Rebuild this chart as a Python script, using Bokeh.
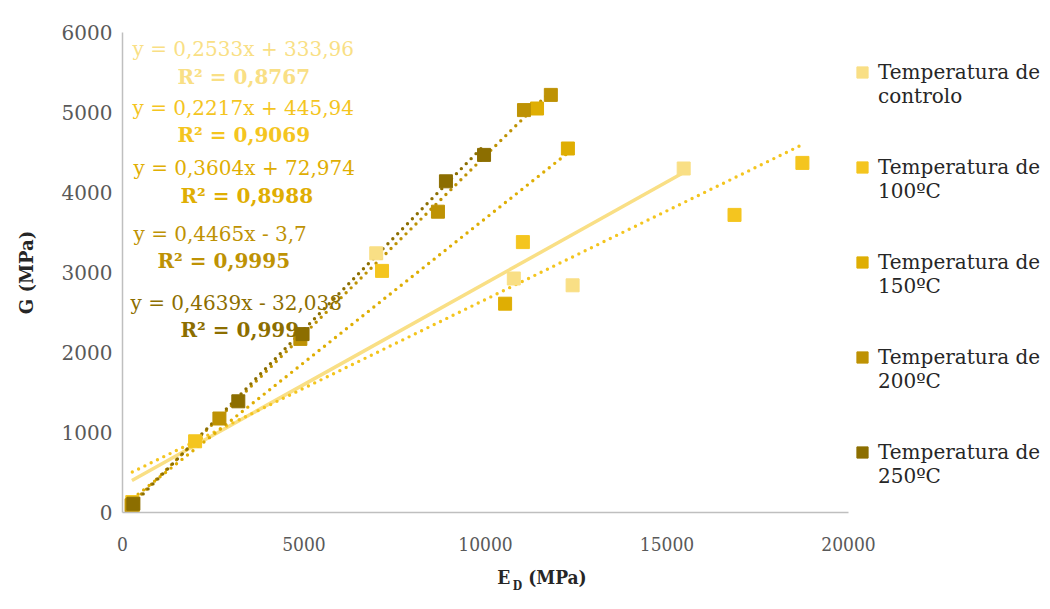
from bokeh.plotting import figure
from bokeh.models import (Range1d, FixedTicker, Label, Legend, LegendItem, LinearAxis)
from bokeh.embed import file_html
from bokeh.resources import INLINE
import numpy as np

# Dynamic modulus E_D (MPa) vs shear modulus G (MPa) per treatment temperature
series_names = ["Temperatura de\ncontrolo", "Temperatura de\n100ºC", "Temperatura de\n150ºC",
                "Temperatura de\n200ºC", "Temperatura de\n250ºC"]
colors = ["#F9DF85", "#F4C51F", "#DFAE03", "#BE9204", "#8C6E00"]

ed_control = [260, 6990, 10780, 12400, 15460]
g_control = [100, 3240, 2925, 2840, 4300]

ed_100 = [270, 2000, 7150, 11030, 16860, 18730]
g_100 = [130, 890, 3020, 3380, 3720, 4370]

ed_150 = [280, 10540, 11420, 12270]
g_150 = [80, 2610, 5050, 4550]

ed_200 = [250, 2670, 4900, 8690, 11060, 11800]
g_200 = [90, 1175, 2170, 3760, 5030, 5220]

ed_250 = [300, 3190, 4960, 8910, 9960]
g_250 = [110, 1390, 2230, 4140, 4470]

# Linear trend fits (slope, intercept, R²)
slopes = [0.2533, 0.2217, 0.3604, 0.4465, 0.4639]
intercepts = [333.96, 445.94, 72.974, -3.7, -32.038]
r2 = [0.8767, 0.9069, 0.8988, 0.9995, 0.999]

xs_all = [ed_control, ed_100, ed_150, ed_200, ed_250]
ys_all = [g_control, g_100, g_150, g_200, g_250]

x_ticks = [0, 5000, 10000, 15000, 20000]
y_ticks = [0, 1000, 2000, 3000, 4000, 5000, 6000]

FONT = "DejaVu Serif"
INK = "#262626"
NBSP = "\u00a0"

p = figure(frame_width=726, frame_height=480, output_backend="svg", toolbar_location=None,
           x_range=Range1d(0, 20000), y_range=Range1d(0, 6000),
           min_border_left=122, min_border_right=6, min_border_top=32, min_border_bottom=10)
p.outline_line_color = None
p.background_fill_color = "white"
p.border_fill_color = "white"
p.xgrid.visible = False
p.ygrid.visible = False

for ax in (p.xaxis[0], p.yaxis[0]):
    ax.axis_line_color = "#BFBFBF"
    ax.axis_line_width = 1.5
    ax.major_tick_line_color = None
    ax.minor_tick_line_color = None
    ax.major_label_text_color = "#595959"
    ax.major_label_text_font = FONT

p.xaxis.ticker = FixedTicker(ticks=x_ticks)
p.yaxis.ticker = FixedTicker(ticks=y_ticks)
p.xaxis.major_label_text_font = "DejaVu Serif Condensed"
p.xaxis.major_label_text_font_size = "19px"
p.yaxis.major_label_text_font_size = "20px"
p.xaxis.major_label_standoff = 18
p.yaxis.major_label_standoff = 4

p.yaxis.axis_label = "G (MPa)"
p.yaxis.axis_label_text_font = FONT
p.yaxis.axis_label_text_font_style = "bold"
p.yaxis.axis_label_text_font_size = "18px"
p.yaxis.axis_label_text_color = INK
p.yaxis.axis_label_standoff = 22

# x axis title "E_D (MPa)" built from two label-only axes: the main text and a
# lowered subscript; non-breaking spaces shift each centred label to the right
def title_axis(text, size, standoff):
    a = LinearAxis(ticker=FixedTicker(ticks=[]),
                   axis_line_color=None, major_tick_line_color=None,
                   minor_tick_line_color=None, axis_label=text,
                   axis_label_text_font="DejaVu Serif Condensed",
                   axis_label_text_font_style="bold", axis_label_text_font_size=size,
                   axis_label_text_color=INK, axis_label_standoff=standoff)
    p.add_layout(a, "below")

title_axis(NBSP * 19 + "E" + NBSP * 3 + "(MPa)", "19px", 12)
title_axis(NBSP * 17 + "D", "12px", -12)

# trend lines
renderers = []
for i in range(5):
    xs = xs_all[i]
    lx = np.array([min(xs), max(xs)], dtype=float)
    ly = slopes[i] * lx + intercepts[i]
    if i == 0:
        p.line(lx, ly, line_color=colors[i], line_width=3.5)
    else:
        p.line(lx, ly, line_color=colors[i], line_width=3.4, line_dash="0 7", line_cap="round")

for i in range(5):
    r = p.scatter(xs_all[i], ys_all[i], marker="square", size=13, fill_color=colors[i],
                  line_color=colors[i])
    renderers.append(r)

# a blank leading line keeps each swatch level with the first text line
legend = Legend(items=[LegendItem(label=" \n" + series_names[i], renderers=[renderers[i]])
                       for i in range(5)],
                location="top_left", background_fill_alpha=0, border_line_color=None,
                label_text_font=FONT, label_text_font_size="20px", label_text_color=INK,
                label_height=80, spacing=15, glyph_width=28, glyph_height=28,
                label_standoff=2, padding=0, margin=0)
p.add_layout(legend, "right")

# pixel helpers for annotation placement inside the frame
def X(px):
    return (px - 122) / 726 * 20000

def Y(py):
    return (512 - py) / 480 * 6000

# regression equations and R²
eq_pos = [(132, 48, 177, 76), (132, 107, 177, 134), (133, 167, 180, 195),
          (133, 233, 157, 260), (130, 302, 180, 329)]

def fmt(v):
    return str(v).replace(".", ",")

for i in range(5):
    ex, ey, rx, ry = eq_pos[i]
    b = intercepts[i]
    sign = "+" if b >= 0 else "-"
    txt = f"y = {fmt(slopes[i])}x {sign} {fmt(abs(b))}"
    p.add_layout(Label(x=X(ex), y=Y(ey), text=txt, text_font=FONT, text_font_size="20px",
                       text_color=colors[i], text_baseline="middle"))
    p.add_layout(Label(x=X(rx), y=Y(ry), text=f"R² = {fmt(r2[i])}", text_font=FONT,
                       text_font_style="bold", text_font_size="20px", text_color=colors[i],
                       text_baseline="middle"))

open("out.html", "w").write(file_html(p, INLINE))
